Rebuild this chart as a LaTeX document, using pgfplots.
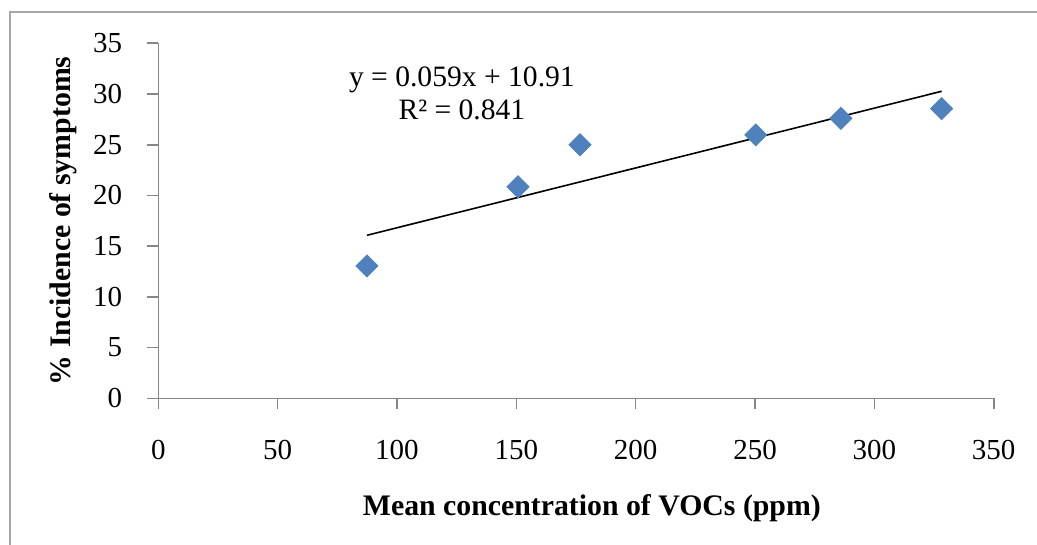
\documentclass[border=0pt]{standalone}
\usepackage{pgfplots}
\pgfplotsset{compat=1.18}
\usepackage{fontspec}
\setmainfont{Liberation Serif}
\definecolor{mkblue}{HTML}{4F81BD}
\definecolor{axgray}{HTML}{868686}
\definecolor{framegray}{HTML}{A6A6A6}
\begin{document}
\begin{tikzpicture}[x=1pt,y=1pt]
\useasboundingbox (-79.15,-73.35) rectangle (439.35,199.15);
\draw[framegray, line width=1.1pt] (-74.15,-73.35) -- (-74.15,193.15) -- (439.35,193.15);
\begin{axis}[
  at={(0,0)}, anchor=south west,
  scale only axis,
  width=417.7pt, height=177.5pt,
  xmin=0, xmax=350, ymin=0, ymax=35,
  xtick={0,50,...,350}, ytick={0,5,...,35},
  axis x line=bottom, axis y line=left,
  axis line style={-, axgray, line width=0.8pt},
  tick style={axgray, line width=0.8pt},
  tick align=outside,
  major tick length=5.5pt,
  /pgf/number format/assume math mode=true,
  ticklabel style={font=\fontsize{14.5}{17}\selectfont, text=black},
  yticklabel style={anchor=east, xshift=-9pt},
  xticklabel style={anchor=north, yshift=-12pt},
  label style={font=\fontsize{14.9}{18}\selectfont\bfseries},
  xlabel={Mean concentration of VOCs (ppm)},
  ylabel={\% Incidence of symptoms},
  xlabel style={at={(axis description cs:0.519,-0.31)}, anchor=center},
  ylabel style={at={(axis description cs:-0.1137,0.5)}, anchor=center},
  clip=false,
]
\addplot[black, line width=0.8pt] coordinates {(87.4,16.07) (328.2,30.27)};
\addplot[only marks, mark=square*, mark size=3.9pt,
  mark options={rotate=45, fill=mkblue, draw=mkblue}] coordinates {
  (87.4,13.05) (150.7,20.85) (176.7,25.0) (250.3,25.97) (286.0,27.6) (328.2,28.56)};
\node[align=center, font=\fontsize{14.8}{16.5}\selectfont] at (axis cs:127.2,30.05)
  {y = 0.059x + 10.91\\R² = 0.841};
\end{axis}
\end{tikzpicture}
\end{document}
